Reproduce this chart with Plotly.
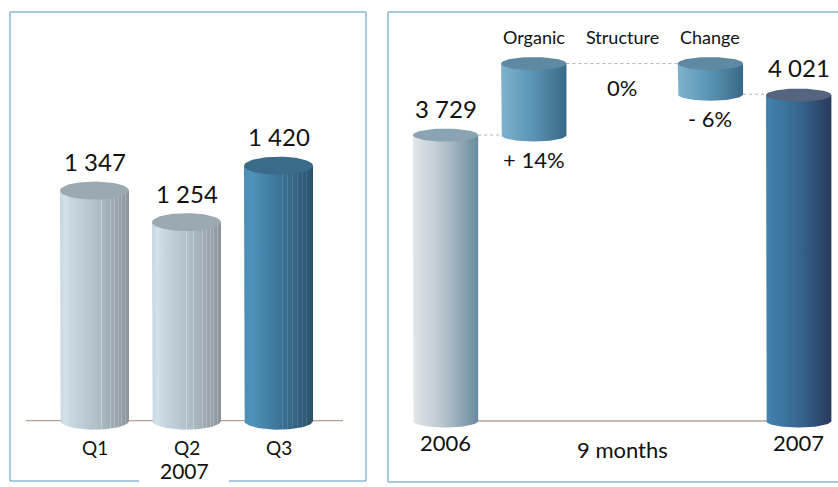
import numpy as np
import plotly.graph_objects as go

W, H = 838, 487

# Quarterly sales, 2007
quarters = ["Q1", "Q2", "Q3"]
quarter_sales = [1347, 1254, 1420]
quarter_year = "2007"

# Nine-month bridge 2006 -> 2007
bridge_years = ["2006", "2007"]
bridge_totals = [3729, 4021]
effect_names = ["Organic", "Structure", "Change"]
effect_pct = [14, 0, -6]
bridge_caption = "9 months"

FONT = "Lato"
INK = "#111111"
BORDER = "#8ab9d6"


def fmt_thousands(v):
    return f"{v:,}".replace(",", " ")


def fmt_pct(p):
    if p > 0:
        return f"+ {p}%"
    if p < 0:
        return f"- {abs(p)}%"
    return "0%"


def y_range(base, px_per_unit, base_px):
    return [base - (H - base_px) / px_per_unit, base + base_px / px_per_unit]


def x_range(first_px, px_per_cat, dom0, dom1):
    return [(dom0 - first_px) / px_per_cat, (dom1 - first_px) / px_per_cat]


def hex_rgb(c):
    c = c.lstrip("#")
    return np.array([int(c[i:i + 2], 16) for i in (0, 2, 4)], dtype=float)


def rgb_hex(a):
    a = np.clip(np.round(a), 0, 255).astype(int)
    return "#%02x%02x%02x" % tuple(a)


def lerp_stops(stops, p):
    for (p0, c0), (p1, c1) in zip(stops[:-1], stops[1:]):
        if p0 <= p <= p1:
            t = 0 if p1 == p0 else (p - p0) / (p1 - p0)
            return hex_rgb(c0) * (1 - t) + hex_rgb(c1) * t
    return hex_rgb(stops[-1][1])


def striped_scale(stops, stripes, lift=22, width=0.012):
    """Smooth gradient with thin lighter vertical facets (faceted cylinder look)."""
    scale = [[p, c] for p, c in stops]
    for s in stripes:
        base = lerp_stops(stops, s)
        light = rgb_hex(base + lift)
        scale += [[s, rgb_hex(base)], [s, light], [s + width, light],
                  [s + width, rgb_hex(lerp_stops(stops, s + width))]]
    scale.sort(key=lambda e: e[0])
    return scale


def cylinder(xc, hw, y0, y1, ry, scale, top_color, xa, ya):
    t = np.linspace(np.pi, 2 * np.pi, 48)
    xs = [xc - hw] + list(xc + hw * np.cos(t)) + [xc + hw, xc - hw]
    ys = [y1] + list(y0 + ry * np.sin(t)) + [y1, y1]
    body = go.Scatter(x=xs, y=ys, mode="lines", fill="toself", line=dict(width=0),
                      fillgradient=dict(type="horizontal", colorscale=scale),
                      xaxis=xa, yaxis=ya, hoverinfo="skip", showlegend=False)
    tt = np.linspace(0, 2 * np.pi, 72)
    top = go.Scatter(x=xc + hw * np.cos(tt), y=y1 + ry * np.sin(tt), mode="lines",
                     fill="toself", fillcolor=top_color, line=dict(width=0),
                     xaxis=xa, yaxis=ya, hoverinfo="skip", showlegend=False)
    return [body, top]


def label(text, x, y, xref, yref, size, yshift=0):
    return dict(x=x, y=y, xref=xref, yref=yref, text=text, showarrow=False,
                xanchor="center", yanchor="middle", yshift=yshift,
                font=dict(size=size, color=INK))


fig = go.Figure()
shapes, annotations = [], []

# ---------------- left panel: quarterly cylinders ----------------
L_BASE, L_SCALE, L_BASE_PX = 670, 0.34, 420.7
L_FIRST_PX, L_STEP_PX = 94.5, 92.0
L_HW = 0.375
L_RY = 9 / L_SCALE

light_scale = striped_scale(
    [(0, "#c6d6e0"), (0.08, "#d3e2ea"), (0.16, "#c8d7e0"), (0.5, "#b3c2ca"), (1, "#8a959b")],
    [0.50, 0.60, 0.66, 0.72, 0.78, 0.84, 0.89, 0.94])
blue_scale = striped_scale(
    [(0, "#4a8db6"), (0.1, "#4f93bb"), (0.5, "#3c7598"), (1, "#2c526b")],
    [0.55, 0.63, 0.70, 0.77, 0.84, 0.90, 0.95], lift=18)
l_scales = [light_scale, light_scale, blue_scale]
l_tops = ["#9ba9b0", "#9ba9b0", "#3a6b89"]

# ground line
shapes.append(dict(type="line", xref="x", yref="y", layer="below",
                   x0=(26 - L_FIRST_PX) / L_STEP_PX, x1=(343 - L_FIRST_PX) / L_STEP_PX,
                   y0=L_BASE, y1=L_BASE, line=dict(color="#a88b7c", width=1)))

for i, (q, v) in enumerate(zip(quarters, quarter_sales)):
    for tr in cylinder(i, L_HW, L_BASE, v, L_RY, l_scales[i], l_tops[i], "x", "y"):
        fig.add_trace(tr)
    annotations.append(label(fmt_thousands(v), i, v, "x", "y", 24, yshift=29))
    annotations.append(label(q, i, 1 - 447 / H, "x", "paper", 19))

annotations.append(label(quarter_year, 184 / W, 1 - 470 / H, "paper", "paper", 21))

# ---------------- right panel: bridge ----------------
R_BASE, R_SCALE, R_BASE_PX = 1642, 0.137, 421
R_FIRST_PX, R_STEP_PX = 445.5, 88.3
R_HW = 0.37
R_RY = 6.5 / R_SCALE

start, end = bridge_totals
levels = [start]
for p in effect_pct:
    levels.append(levels[-1] + start * p / 100)

grey_scale = [[0, "#e3e7ea"], [0.45, "#b9c6ce"], [1, "#688aa0"]]
step_scale = [[0, "#7db3d0"], [0.5, "#5a92b4"], [1, "#396988"]]
navy_scale = [[0, "#4284ac"], [0.5, "#366690"], [1, "#293a5e"]]

n_cols = len(effect_names) + 2

# baseline between the two totals
shapes.append(dict(type="line", xref="x2", yref="y2", layer="below",
                   x0=0, x1=n_cols - 1, y0=R_BASE, y1=R_BASE,
                   line=dict(color="#c5b9b2", width=2)))

for tr in cylinder(0, R_HW, R_BASE, start, R_RY, grey_scale, "#8ba4b4", "x2", "y2"):
    fig.add_trace(tr)
for tr in cylinder(n_cols - 1, R_HW, R_BASE, end, R_RY, navy_scale, "#56657f", "x2", "y2"):
    fig.add_trace(tr)

# (column position, level leaving the column) for every drawn cylinder
drawn = [(0, start)]
for k, (name, p) in enumerate(zip(effect_names, effect_pct)):
    xc = k + 1
    lo, hi = min(levels[k], levels[k + 1]), max(levels[k], levels[k + 1])
    if hi > lo:
        for tr in cylinder(xc, R_HW, lo, hi, R_RY, step_scale, "#5f88a3", "x2", "y2"):
            fig.add_trace(tr)
        drawn.append((xc, levels[k + 1]))
    annotations.append(label(name, xc, 1 - 37 / H, "x2", "paper", 18))
    annotations.append(label(fmt_pct(p), xc, lo, "x2", "y2", 22, yshift=-24))
drawn.append((n_cols - 1, end))

# dotted connectors between consecutive cylinders
for (xa, lvl), (xb, _) in zip(drawn[:-1], drawn[1:]):
    shapes.append(dict(type="line", xref="x2", yref="y2", layer="below",
                       x0=xa + R_HW, x1=xb - R_HW, y0=lvl, y1=lvl,
                       line=dict(color="#b5b5b5", width=1, dash="dot")))

annotations.append(label(fmt_thousands(start), 0, start, "x2", "y2", 24, yshift=27))
annotations.append(label(fmt_thousands(end), n_cols - 1, end, "x2", "y2", 24, yshift=28))
annotations.append(label(bridge_years[0], 0, 1 - 442 / H, "x2", "paper", 22))
annotations.append(label(bridge_years[1], n_cols - 1, 1 - 442 / H, "x2", "paper", 22))
annotations.append(label(bridge_caption, (n_cols - 1) / 2, 1 - 449 / H, "x2", "paper", 22))


# ---------------- panel frames ----------------
def frame_line(x0, y0, x1, y1):
    shapes.append(dict(type="line", xref="paper", yref="paper",
                       x0=x0 / W, x1=x1 / W, y0=1 - y0 / H, y1=1 - y1 / H,
                       line=dict(color=BORDER, width=1.5)))


frame_line(10, 12, 366, 12)
frame_line(10, 12, 10, 481)
frame_line(366, 12, 366, 481)
frame_line(10, 481, 139, 481)
frame_line(229, 481, 366, 481)
frame_line(388, 12, 840, 12)
frame_line(388, 12, 388, 482)
frame_line(388, 482, 840, 482)

hidden = dict(visible=False, showgrid=False, zeroline=False, fixedrange=True)
fig.update_layout(
    width=W, height=H,
    margin=dict(l=0, r=0, t=0, b=0),
    paper_bgcolor="white", plot_bgcolor="rgba(0,0,0,0)",
    font=dict(family=FONT, color=INK),
    showlegend=False,
    xaxis=dict(domain=[0, 376 / W], range=x_range(L_FIRST_PX, L_STEP_PX, 0, 376), **hidden),
    yaxis=dict(domain=[0, 1], range=y_range(L_BASE, L_SCALE, L_BASE_PX), **hidden),
    xaxis2=dict(domain=[384 / W, 1], range=x_range(R_FIRST_PX, R_STEP_PX, 384, W), **hidden),
    yaxis2=dict(domain=[0, 1], range=y_range(R_BASE, R_SCALE, R_BASE_PX), anchor="x2", **hidden),
    shapes=shapes,
    annotations=annotations,
)

fig.write_html("out.html")
